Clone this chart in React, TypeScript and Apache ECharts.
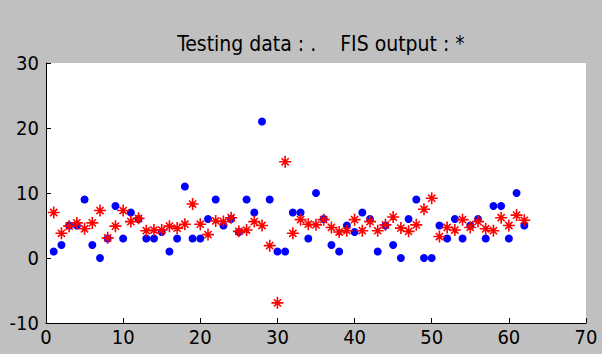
import React, { useEffect, useRef } from "react";
import * as echarts from "echarts";

const xValues: number[] = Array.from({ length: 62 }, (_, i) => i + 1);

const testingData: number[] = [
  1, 2, 5, 5, 9, 2, 0, 3, 8, 3,
  7, 6, 3, 3, 4, 1, 3, 11, 3, 3,
  6, 9, 5, 6, 4, 9, 7, 21, 9, 1,
  1, 7, 7, 3, 10, 6, 2, 1, 5, 4,
  7, 6, 1, 5, 2, 0, 6, 9, 0, 0,
  5, 3, 6, 3, 5, 6, 3, 8, 8, 3,
  10, 5,
];

const fisOutput: number[] = [
  7.0, 3.8, 4.9, 5.4, 4.5, 5.4, 7.3, 3.1, 4.9, 7.3,
  5.6, 6.1, 4.2, 4.3, 4.3, 4.9, 4.6, 5.2, 8.3, 5.2,
  3.6, 5.7, 5.6, 6.2, 4.1, 4.3, 5.6, 5.0, 1.9, -6.9,
  14.8, 3.8, 5.9, 5.2, 5.1, 5.9, 4.7, 4.0, 4.2, 5.9,
  4.2, 5.6, 4.2, 5.1, 6.3, 4.6, 4.1, 5.1, 7.5, 9.2,
  3.3, 4.7, 4.3, 5.9, 4.7, 5.6, 4.5, 4.2, 6.2, 5.0,
  6.6, 5.8,
];

const xTicks = { min: 0, max: 70, interval: 10 };
const yTicks = { min: -10, max: 30, interval: 10 };

const titleText = "Testing data : .    FIS output : *";

const FONT = "'Liberation Sans Narrow', 'DejaVu Sans Condensed', 'Liberation Sans', Arial, sans-serif";

const starPath =
  "path://M6 0L6 12M0 6L12 6M2.4 2.4L9.6 9.6M9.6 2.4L2.4 9.6M4.8 4.8L7.2 4.8L7.2 7.2L4.8 7.2Z";

export default function App() {
  const ref = useRef<HTMLDivElement>(null);

  useEffect(() => {
    document.body.style.margin = "0";
    const chart = echarts.init(ref.current!, undefined, { renderer: "svg" });
    chart.setOption({
      animation: false,
      backgroundColor: "#c0c0c0",
      title: {
        text: titleText,
        left: 316,
        textAlign: "center",
        top: 28,
        textStyle: {
          fontFamily: FONT,
          fontSize: 21,
          fontWeight: "normal",
          color: "#000",
        },
      },
      grid: {
        left: 46,
        right: 16,
        top: 63,
        bottom: 31,
        show: true,
        backgroundColor: "#ffffff",
        borderWidth: 0,
      },
      xAxis: {
        type: "value",
        min: xTicks.min,
        max: xTicks.max,
        interval: xTicks.interval,
        axisLine: { onZero: false, lineStyle: { color: "#000", width: 1 } },
        axisTick: { inside: true, length: 5, lineStyle: { color: "#000" } },
        splitLine: { show: false },
        axisLabel: {
          color: "#000",
          fontFamily: FONT,
          fontSize: 20,
          margin: 4,
        },
      },
      yAxis: {
        type: "value",
        min: yTicks.min,
        max: yTicks.max,
        interval: yTicks.interval,
        axisLine: { onZero: false, lineStyle: { color: "#000", width: 1 } },
        axisTick: { inside: true, length: 5, lineStyle: { color: "#000" } },
        splitLine: { show: false },
        axisLabel: {
          color: "#000",
          fontFamily: FONT,
          fontSize: 20,
          margin: 7,
        },
      },
      series: [
        {
          name: "Testing data",
          type: "scatter",
          data: xValues.map((x, i) => [x, testingData[i]]),
          symbol: "circle",
          symbolSize: 8,
          itemStyle: { color: "#0000ff", opacity: 1 },
          z: 2,
        },
        {
          name: "FIS output",
          type: "scatter",
          data: xValues.map((x, i) => [x, fisOutput[i]]),
          symbol: starPath,
          symbolSize: 12,
          itemStyle: {
            color: "#ff0000",
            borderColor: "#ff0000",
            borderWidth: 1.6,
            opacity: 1,
          },
          z: 3,
        },
      ],
    });
    return () => chart.dispose();
  }, []);

  return (
    <div
      ref={ref}
      style={{ position: "absolute", left: 0, top: 0, width: 602, height: 354 }}
    />
  );
}
